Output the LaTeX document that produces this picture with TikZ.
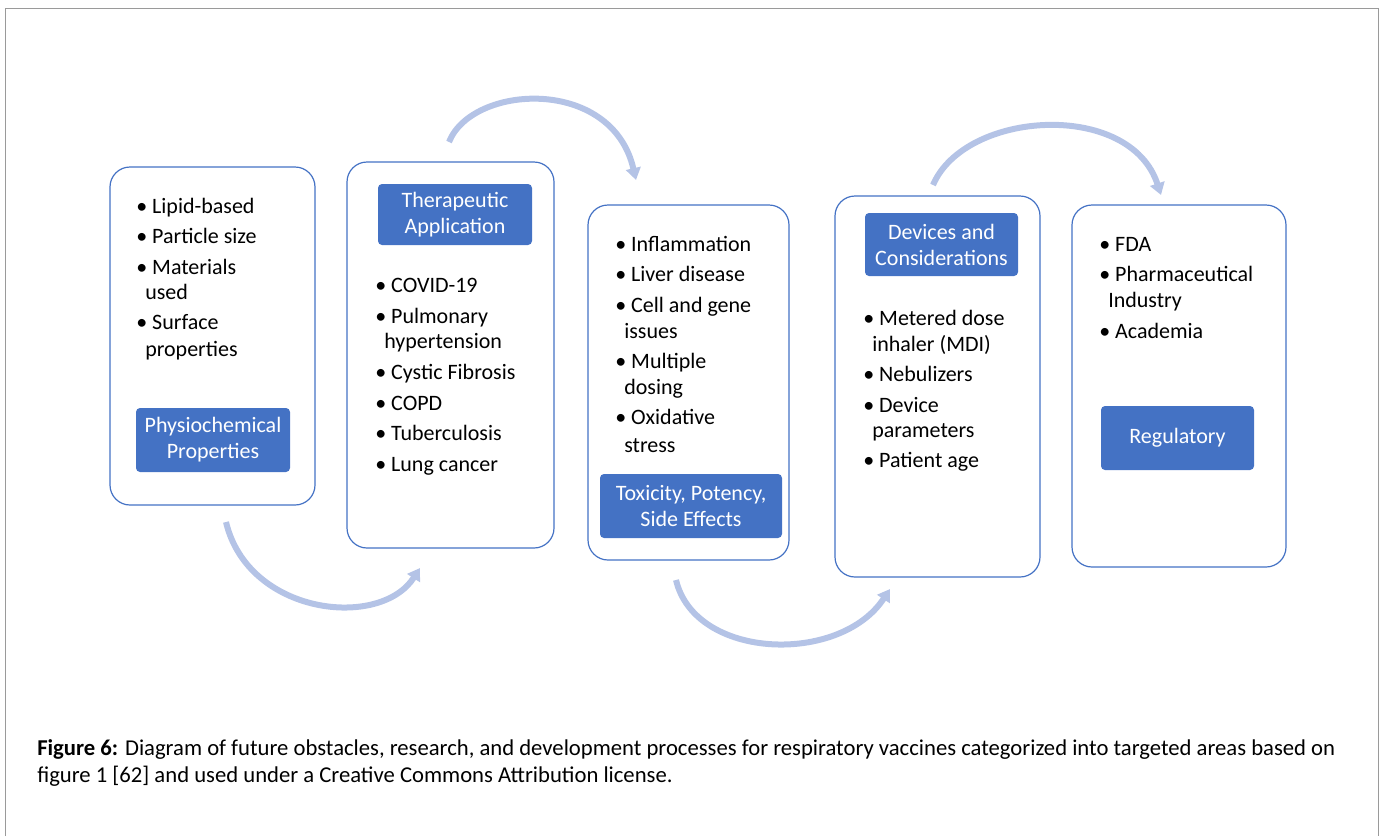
\documentclass[tikz,border=0pt]{standalone}
\usepackage{fontspec}
\setmainfont{Carlito}
\usetikzlibrary{arrows.meta}

\definecolor{panelblue}{HTML}{4472C4}
\definecolor{arrowblue}{HTML}{B4C3E6}
\definecolor{framegray}{HTML}{9A9A9A}

\tikzset{
  panel/.style={draw=panelblue, line width=0.9pt, rounded corners=15pt},
  head/.style={fill=panelblue, draw=none, rounded corners=3pt},
  headtext/.style={text=white, align=center, inner sep=0pt, font=\fontsize{16.5}{19.5}\selectfont},
  item/.style={anchor=base west, inner sep=0pt, font=\fontsize{16.5}{19.5}\selectfont},
  captext/.style={anchor=base west, inner sep=0pt, font=\fontsize{17}{20}\selectfont},
  flow/.style={draw=arrowblue, line width=4.5pt, -{Triangle[length=9pt,width=11pt]}},
}

\begin{document}
\begin{tikzpicture}[x=0.75pt,y=-0.75pt]
  \useasboundingbox (0,0) rectangle (1384,836);

  % outer frame, open at the bottom
  \draw[framegray, line width=0.75pt] (5,836) -- (5,8) -- (1378,8) -- (1378,836);

  % the five panels
  \draw[panel] (110,167) rectangle (315,505);
  \draw[panel] (347,162) rectangle (554,548);
  \draw[panel] (588,205) rectangle (789,560);
  \draw[panel] (835,196) rectangle (1040,577);
  \draw[panel] (1072,205) rectangle (1286,567);

  % headings
  \fill[head] (136,408) rectangle (290,472) node[midway, headtext] (phys) {Physiochemical\\Properties};
  \fill[head] (378,184) rectangle (532,245) node[midway, headtext] (ther) {Therapeutic\\Application};
  \fill[head] (600,474) rectangle (782,538) node[midway, headtext] (tox) {Toxicity, Potency,\\Side Effects};
  \fill[head] (865,213) rectangle (1018,276) node[midway, headtext] (dev) {Devices and\\Considerations};
  \fill[head] (1101,406) rectangle (1254,470) node[midway, headtext] (reg) {Regulatory};

  % bullet lists
  \def\xa{136}
  \foreach \dx/\y/\t [count=\i] in {0/213/{\textbullet\ Lipid-based}, 0/243/{\textbullet\ Particle size},
      0/274/{\textbullet\ Materials}, 9/299/{used}, 0/329/{\textbullet\ Surface}, 9/356/{properties}}
    \node[item] (pa\i) at (\xa+\dx,\y) {\t};

  \def\xb{375}
  \foreach \dx/\y/\t [count=\i] in {0/292/{\textbullet\ COVID-19}, 0/323/{\textbullet\ Pulmonary},
      9/348/{hypertension}, 0/379/{\textbullet\ Cystic Fibrosis}, 0/410/{\textbullet\ COPD},
      0/440/{\textbullet\ Tuberculosis}, 0/471/{\textbullet\ Lung cancer}}
    \node[item] (pb\i) at (\xb+\dx,\y) {\t};

  \def\xc{615}
  \foreach \dx/\y/\t [count=\i] in {0/251/{\textbullet\ Inflammation}, 0/281/{\textbullet\ Liver disease},
      0/312/{\textbullet\ Cell and gene}, 9/338/{issues}, 0/368/{\textbullet\ Multiple},
      9/394/{dosing}, 0/424/{\textbullet\ Oxidative}, 9/452/{stress}}
    \node[item] (pc\i) at (\xc+\dx,\y) {\t};

  \def\xd{863}
  \foreach \dx/\y/\t [count=\i] in {0/325/{\textbullet\ Metered dose}, 9/351/{inhaler (MDI)},
      0/381/{\textbullet\ Nebulizers}, 0/412/{\textbullet\ Device}, 9/437/{parameters},
      0/467/{\textbullet\ Patient age}}
    \node[item] (pd\i) at (\xd+\dx,\y) {\t};

  \def\xe{1099}
  \foreach \dx/\y/\t [count=\i] in {0/251/{\textbullet\ FDA}, 0/281/{\textbullet\ Pharmaceutical},
      9/307/{Industry}, 0/338/{\textbullet\ Academia}}
    \node[item] (pe\i) at (\xe+\dx,\y) {\t};

  % curved arrows between the panels
  \coordinate (a1s) at (226,522);  \coordinate (a1e) at (420,568);
  \coordinate (a2s) at (449,142);  \coordinate (a2e) at (636,180);
  \coordinate (a3s) at (676,580);  \coordinate (a3e) at (890,589);
  \coordinate (a4s) at (933,185);  \coordinate (a4e) at (1161,195);
  \draw[flow] (a1s) .. controls (248,615) and (380,630) .. (a1e);
  \draw[flow] (a2s) .. controls (472,84) and (612,76) .. (a2e);
  \draw[flow] (a3s) .. controls (695,660) and (840,665) .. (a3e);
  \draw[flow] (a4s) .. controls (965,110) and (1130,100) .. (a4e);

  % caption
  \node[captext] (cap1) at (37,755) {\textbf{Figure 6:} Diagram of future obstacles, research, and development processes for respiratory vaccines categorized into targeted areas based on};
  \node[captext] (cap2) at (37,782) {figure 1 [62] and used under a Creative Commons Attribution license.};
\end{tikzpicture}
\end{document}
